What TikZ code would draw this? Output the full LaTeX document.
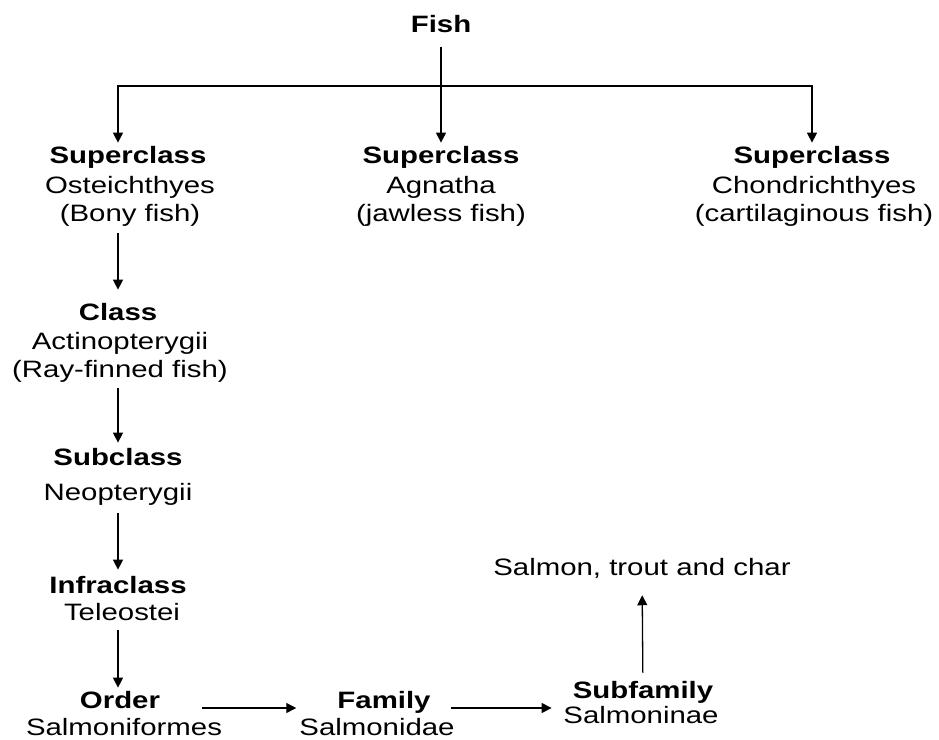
\documentclass[tikz,border=0pt]{standalone}
\usepackage{fontspec}
\setmainfont{Liberation Sans}[FakeStretch=1.24]
\usetikzlibrary{arrows.meta}
\newcommand\treefont{\fontsize{23.7}{28}\selectfont}

\tikzset{
  rank/.style={font=\treefont\bfseries, inner sep=0pt, anchor=base},
  taxon/.style={font=\treefont, align=center, inner sep=0pt, anchor=base},
  link/.style={line width=1.3pt},
  arr/.style={link, -{Triangle[length=10pt,width=10pt]}},
}

\begin{document}
\begin{tikzpicture}[x=1pt,y=-1pt]
  \useasboundingbox (0,0) rectangle (939,739);

  % root and the three superclasses
  \node[rank] (fish) at (441,32) {Fish};
  \coordinate (bar) at (441,86);

  \node[rank]  (superA)  at (128,163) {Superclass};
  \node[taxon] (osteich) at (130,221) {Osteichthyes\\(Bony fish)};
  \node[rank]  (superB)  at (441,163) {Superclass};
  \node[taxon] (agnatha) at (441,221) {Agnatha\\(jawless fish)};
  \node[rank]  (superC)  at (812,163) {Superclass};
  \node[taxon] (chondri) at (814,221) {Chondrichthyes\\(cartilaginous fish)};

  % bony fish line down to the order
  \node[rank]  (class)      at (118,320) {Class};
  \node[taxon] (actino)     at (120,377) {Actinopterygii\\(Ray-finned fish)};
  \node[rank]  (subclass)   at (118,465) {Subclass};
  \node[taxon] (neoptery)   at (118,500) {Neopterygii};
  \node[rank]  (infraclass) at (118,593) {Infraclass};
  \node[taxon] (teleostei)  at (122,620) {Teleostei};
  \node[rank]  (order)      at (120,708) {Order};
  \node[taxon] (salmoniformes) at (124,735) {Salmoniformes};

  % family and subfamily
  \node[rank]  (family)     at (384,708) {Family};
  \node[taxon] (salmonidae) at (377,735) {Salmonidae};
  \node[rank]  (subfamily)  at (643,698) {Subfamily};
  \node[taxon] (salmoninae) at (641,723) {Salmoninae};
  \node[taxon] (salmon)     at (642,575) {Salmon, trout and char};

  \draw[arr, shorten <=15pt, shorten >=3pt] (fish) -- (superB);
  \draw[arr, shorten >=3pt] (bar) -| (superA.north -| class);
  \draw[arr, shorten >=3pt] (bar) -| (superC);

  \draw[arr, shorten <=7pt, shorten >=13pt] (osteich.south -| class) -- (class);
  \draw[arr, shorten <=6pt, shorten >=5pt] (actino.south -| class) -- (subclass);
  \draw[arr, shorten <=8pt, shorten >=6pt] (neoptery) -- (infraclass);
  \draw[arr, shorten <=10pt, shorten >=3pt] (teleostei.south -| infraclass) -- (order.north -| infraclass);

  \draw[arr, shorten <=42pt, shorten >=41pt] (order.base east) -- (family.base west);
  \draw[arr, shorten <=20pt, shorten >=21pt] (family.base east) -- (family.base east -| subfamily.west);
  \draw[arr, shorten <=8pt, shorten >=17pt] (subfamily) -- (salmon);
\end{tikzpicture}
\end{document}
